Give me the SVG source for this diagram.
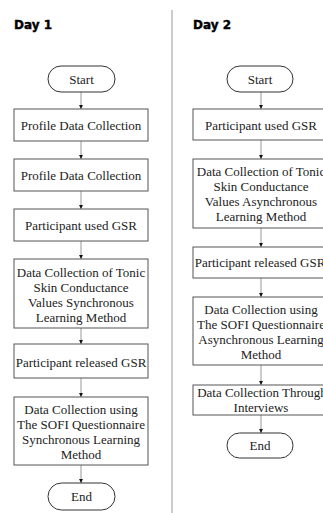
<svg xmlns="http://www.w3.org/2000/svg" width="323" height="513" viewBox="0 0 323 513">
<style>
.h{font-family:"DejaVu Sans","Liberation Sans",sans-serif;font-weight:bold;font-size:12px;fill:#000;stroke:#000;stroke-width:0.4}
.t{font-family:'Liberation Serif','Times New Roman',serif;font-size:13px;fill:#222;text-anchor:middle}
.b{fill:#fff;stroke:#555;stroke-width:1}
.s{fill:#fff;stroke:#333;stroke-width:1}
.c{stroke:#999;stroke-width:1;fill:none;marker-end:url(#ah)}
</style>
<defs>
<marker id="ah" markerWidth="5" markerHeight="5" refX="4.5" refY="2.5" orient="auto" markerUnits="userSpaceOnUse">
<path d="M0,0.3 L4.5,2.5 L0,4.7 Z" fill="#111"/>
</marker>
</defs>
<rect width="323" height="513" fill="#fff"/>
<line x1="172" y1="10" x2="172" y2="513" stroke="#bbb" stroke-width="1.5"/>
<text class="h" x="14" y="29">Day 1</text>
<text class="h" x="193" y="29">Day 2</text>
<g id="connectors">
<line class="c" x1="81" y1="92" x2="81" y2="109"/>
<line class="c" x1="81" y1="141" x2="81" y2="159"/>
<line class="c" x1="81" y1="191" x2="81" y2="209"/>
<line class="c" x1="81" y1="241" x2="81" y2="259"/>
<line class="c" x1="81" y1="328" x2="81" y2="344"/>
<line class="c" x1="81" y1="378" x2="81" y2="397"/>
<line class="c" x1="81" y1="465" x2="81" y2="483"/>
<line class="c" x1="261" y1="92" x2="261" y2="109"/>
<line class="c" x1="261" y1="140" x2="261" y2="159"/>
<line class="c" x1="261" y1="228" x2="261" y2="247"/>
<line class="c" x1="261" y1="278" x2="261" y2="297"/>
<line class="c" x1="261" y1="365" x2="261" y2="385"/>
<line class="c" x1="261" y1="415" x2="261" y2="433"/>
</g>
<g id="d1-start"><rect class="s" x="48" y="66" width="67" height="26" rx="13"/><text class="t" x="81.5" y="83.5">Start</text></g>
<g id="d1-profile1"><rect class="b" x="14" y="109" width="134" height="32"/><text class="t" x="81" y="129.5">Profile Data Collection</text></g>
<g id="d1-profile2"><rect class="b" x="14" y="159" width="134" height="32"/><text class="t" x="81" y="179.5">Profile Data Collection</text></g>
<g id="d1-used"><rect class="b" x="14" y="209" width="134" height="32"/><text class="t" x="81" y="229.5">Participant used GSR</text></g>
<g id="d1-tonic"><rect class="b" x="14" y="259" width="134" height="69"/><text class="t" x="81" y="276.5">Data Collection of Tonic</text><text class="t" x="81" y="291.5">Skin Conductance</text><text class="t" x="81" y="306.5">Values Synchronous</text><text class="t" x="81" y="321.5">Learning Method</text></g>
<g id="d1-released"><rect class="b" x="14" y="344" width="134" height="34"/><text class="t" x="81" y="366.5">Participant released GSR</text></g>
<g id="d1-sofi"><rect class="b" x="14" y="397" width="134" height="68"/><text class="t" x="81" y="413.5">Data Collection using</text><text class="t" x="81" y="428.5">The SOFI Questionnaire</text><text class="t" x="81" y="443.5">Synchronous Learning</text><text class="t" x="81" y="458.5">Method</text></g>
<g id="d1-end"><rect class="s" x="48" y="483" width="67" height="27" rx="13.5"/><text class="t" x="81.5" y="501">End</text></g>
<g id="d2-start"><rect class="s" x="227" y="66" width="66" height="26" rx="13"/><text class="t" x="260" y="83.5">Start</text></g>
<g id="d2-used"><rect class="b" x="193" y="109" width="138" height="31"/><text class="t" x="261" y="129.5">Participant used GSR</text></g>
<g id="d2-tonic"><rect class="b" x="193" y="159" width="138" height="69"/><text class="t" x="261" y="175.5">Data Collection of Tonic</text><text class="t" x="261" y="190.5">Skin Conductance</text><text class="t" x="261" y="205.5">Values Asynchronous</text><text class="t" x="261" y="220.5">Learning Method</text></g>
<g id="d2-released"><rect class="b" x="193" y="247" width="138" height="31"/><text class="t" x="260" y="266.5">Participant released GSR</text></g>
<g id="d2-sofi"><rect class="b" x="193" y="297" width="138" height="68"/><text class="t" x="261" y="313.5">Data Collection using</text><text class="t" x="261" y="328.5">The SOFI Questionnaire</text><text class="t" x="261" y="344">Asynchronous Learning</text><text class="t" x="261" y="359">Method</text></g>
<g id="d2-interviews"><rect class="b" x="193" y="385" width="138" height="30"/><text class="t" x="262" y="397">Data Collection Through</text><text class="t" x="261" y="411.5">Interviews</text></g>
<g id="d2-end"><rect class="s" x="227" y="433" width="66" height="25" rx="12.5"/><text class="t" x="260" y="450">End</text></g>
</svg>
